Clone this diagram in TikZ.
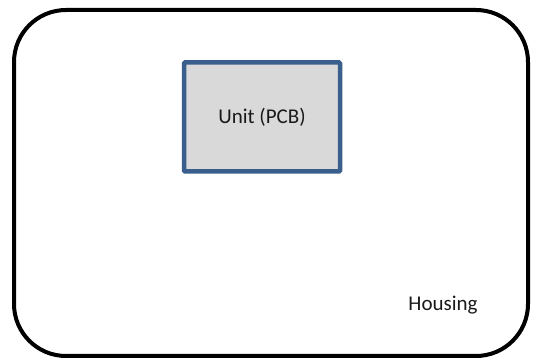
\documentclass[tikz,border=0pt]{standalone}
\usepackage{fontspec}
\setmainfont{Carlito}
\definecolor{pcbblue}{RGB}{58,95,140}
\definecolor{pcbfill}{RGB}{217,217,217}
\begin{document}
\begin{tikzpicture}[x=1pt,y=1pt,
  housing/.style={draw=black,line width=4pt,rounded corners=52pt},
  pcb/.style={draw=pcbblue,fill=pcbfill,line width=4.5pt,rounded corners=1pt},
  lbl/.style={font=\fontsize{21}{25}\selectfont,text=black!90}]
\useasboundingbox (0,0) rectangle (539,362);
\draw[housing] (14,352) rectangle (528,6);
\node[pcb,minimum width=156pt,minimum height=109pt,inner sep=0pt] (unit) at (262,245) {};
\node[lbl] (unitlabel) at (unit.center) {Unit (PCB)};
\node[lbl] (housinglabel) at (443,57) {Housing};
\end{tikzpicture}
\end{document}
